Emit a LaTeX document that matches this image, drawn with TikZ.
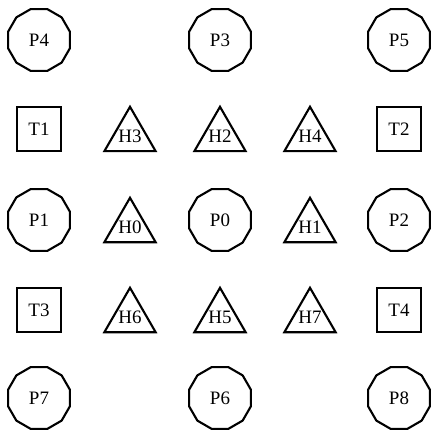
\documentclass[tikz,border=0pt]{standalone}
\usepackage{fontspec}
\setmainfont{Liberation Serif}
\usetikzlibrary{shapes.geometric}

\begin{document}
\begin{tikzpicture}[
  font=\fontsize{13.5}{15}\selectfont,
  pnode/.style={regular polygon,regular polygon sides=12,draw,minimum size=1.6cm,inner sep=0pt,line width=1.5pt},
  hnode/.style={regular polygon,regular polygon sides=3,draw,minimum size=1.48cm,inner sep=-4pt,line width=1.5pt,yshift=-0.185cm},
  tnode/.style={rectangle,draw,minimum size=1.12cm,inner sep=0pt,line width=1.5pt}
]
\useasboundingbox (0,0) rectangle (10.775,10.775);
% top row
\node[pnode] (p4) at (0.975,9.775) {P4};
\node[pnode] (p3) at (5.5,9.775)   {P3};
\node[pnode] (p5) at (9.975,9.775) {P5};
% second row
\node[tnode] (t1) at (0.975,7.55) {T1};
\node[hnode] (h3) at (3.25,7.55)  {H3};
\node[hnode] (h2) at (5.5,7.55)   {H2};
\node[hnode] (h4) at (7.75,7.55)  {H4};
\node[tnode] (t2) at (9.975,7.55) {T2};
% middle row
\node[pnode] (p1) at (0.975,5.275) {P1};
\node[hnode] (h0) at (3.25,5.275)  {H0};
\node[pnode] (p0) at (5.5,5.275)   {P0};
\node[hnode] (h1) at (7.75,5.275)  {H1};
\node[pnode] (p2) at (9.975,5.275) {P2};
% fourth row
\node[tnode] (t3) at (0.975,3.025) {T3};
\node[hnode] (h6) at (3.25,3.025)  {H6};
\node[hnode] (h5) at (5.5,3.025)   {H5};
\node[hnode] (h7) at (7.75,3.025)  {H7};
\node[tnode] (t4) at (9.975,3.025) {T4};
% bottom row
\node[pnode] (p7) at (0.975,0.825) {P7};
\node[pnode] (p6) at (5.5,0.825)   {P6};
\node[pnode] (p8) at (9.975,0.825) {P8};
\end{tikzpicture}
\end{document}
